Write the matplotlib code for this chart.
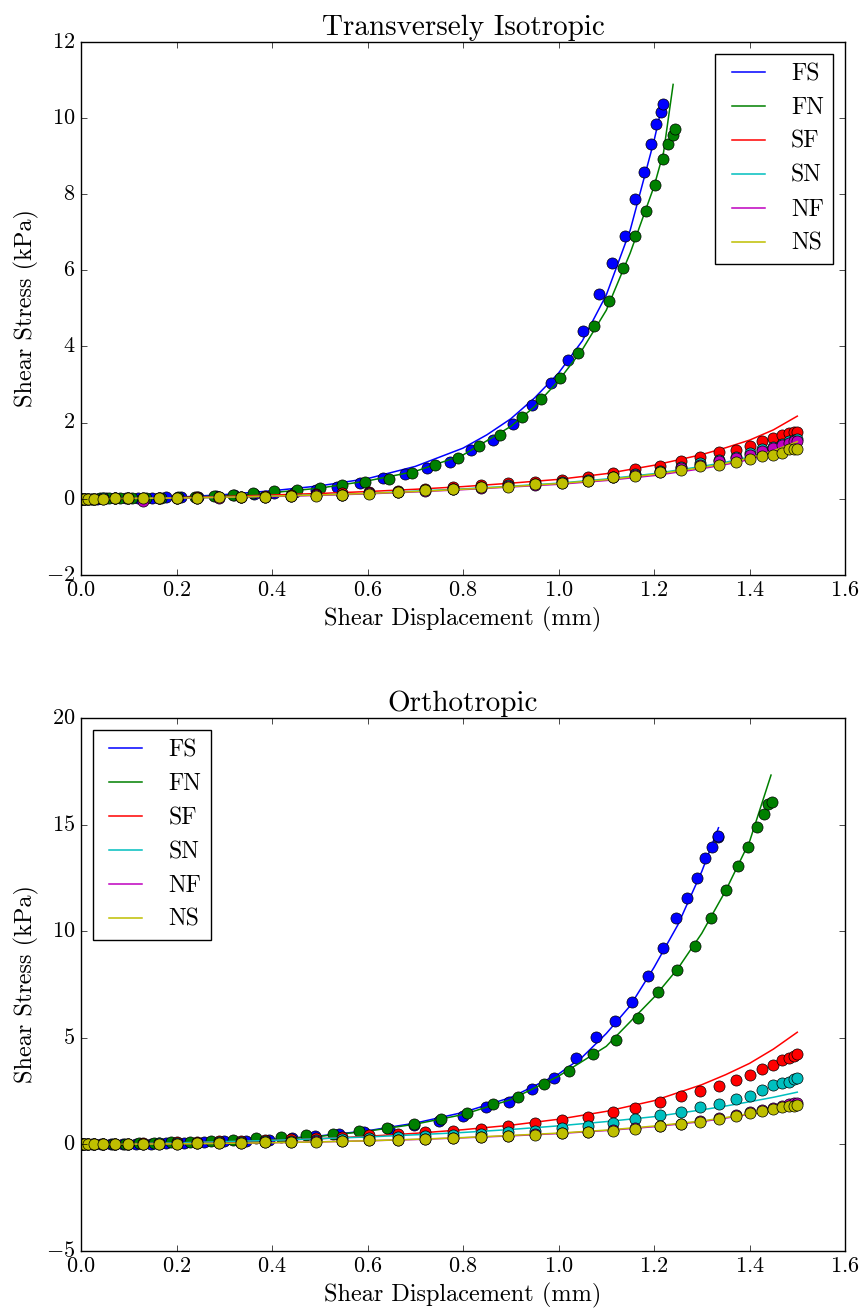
import matplotlib
matplotlib.use("Agg")
import matplotlib.pyplot as plt

plt.style.use("classic")
plt.rcParams["font.family"] = "serif"
plt.rcParams["font.serif"] = ["cmr10"]
plt.rcParams["mathtext.fontset"] = "cm"
plt.rcParams["axes.formatter.use_mathtext"] = True
plt.rcParams["figure.facecolor"] = "white"

names = ["FS", "FN", "SF", "SN", "NF", "NS"]
colors = ["b", "g", "r", "c", "m", "y"]

# shared displacement samples of the slower directions (mm)
x_disp = [0.0, 0.006, 0.015, 0.027, 0.047, 0.071, 0.099, 0.13, 0.164, 0.201,
          0.243, 0.29, 0.336, 0.385, 0.439, 0.493, 0.547, 0.604, 0.663, 0.72,
          0.779, 0.837, 0.895, 0.951, 1.007, 1.061, 1.114, 1.161, 1.212, 1.256,
          1.296, 1.336, 1.372, 1.401, 1.427, 1.45, 1.469, 1.482, 1.494, 1.5]

# ---- transversely isotropic: experimental points ----
x_ti_fs = [0.0, 0.008, 0.02, 0.034, 0.052, 0.072, 0.095, 0.12, 0.148, 0.178,
           0.21, 0.245, 0.282, 0.321, 0.362, 0.405, 0.448, 0.492, 0.537, 0.584,
           0.633, 0.678, 0.725, 0.772, 0.816, 0.862, 0.905, 0.944, 0.984, 1.020,
           1.051, 1.085, 1.113, 1.139, 1.161, 1.179, 1.193, 1.205, 1.214, 1.219]
y_ti_fs = [0, 0, 0, 0, 0.01, 0.01, 0.02, 0.02, 0.03, 0.04,
           0.05, 0.06, 0.08, 0.1, 0.12, 0.15, 0.19, 0.24, 0.3, 0.41,
           0.54, 0.64, 0.81, 0.97, 1.27, 1.55, 1.96, 2.47, 3.03, 3.64,
           4.4, 5.38, 6.2, 6.91, 7.87, 8.58, 9.31, 9.84, 10.15, 10.36]
x_ti_fn = [0.0, 0.004, 0.01, 0.022, 0.039, 0.058, 0.081, 0.107, 0.136, 0.168,
           0.203, 0.239, 0.278, 0.318, 0.36, 0.405, 0.453, 0.5, 0.547, 0.594,
           0.646, 0.693, 0.742, 0.79, 0.834, 0.878, 0.923, 0.963, 1.003, 1.04,
           1.075, 1.106, 1.134, 1.161, 1.183, 1.202, 1.219, 1.229, 1.239, 1.243]
y_ti_fn = [0, 0, 0, 0, 0.01, 0.01, 0.01, 0.02, 0.02, 0.03,
           0.04, 0.05, 0.07, 0.11, 0.16, 0.2, 0.23, 0.28, 0.36, 0.45,
           0.53, 0.68, 0.88, 1.07, 1.39, 1.67, 2.15, 2.61, 3.18, 3.82,
           4.54, 5.2, 6.05, 6.91, 7.55, 8.25, 8.93, 9.31, 9.55, 9.7]
y_ti_sf = [0, 0, 0, 0, 0.01, 0.01, 0.01, 0.02, 0.02, 0.03,
           0.04, 0.05, 0.06, 0.08, 0.1, 0.12, 0.14, 0.17, 0.21, 0.27,
           0.31, 0.36, 0.42, 0.43, 0.49, 0.58, 0.69, 0.79, 0.86, 0.99,
           1.1, 1.22, 1.28, 1.39, 1.52, 1.59, 1.68, 1.74, 1.75, 1.75]
y_ti_sn = [0, 0, 0, 0, 0.01, 0.01, 0.01, 0.02, 0.02, 0.03,
           0.03, 0.04, 0.05, 0.06, 0.08, 0.09, 0.11, 0.14, 0.17, 0.22,
           0.26, 0.3, 0.35, 0.38, 0.43, 0.49, 0.58, 0.65, 0.74, 0.83,
           0.93, 1.03, 1.1, 1.2, 1.3, 1.37, 1.45, 1.51, 1.55, 1.57]
y_ti_nf = [0, 0, 0, 0, 0, 0.01, 0.01, -0.05, 0.01, 0.02,
           0.03, 0.03, 0.04, 0.06, 0.07, 0.09, 0.11, 0.14, 0.17, 0.21,
           0.25, 0.29, 0.34, 0.37, 0.42, 0.48, 0.56, 0.63, 0.71, 0.8,
           0.9, 0.99, 1.07, 1.16, 1.26, 1.33, 1.41, 1.47, 1.51, 1.52]
y_ti_ns = [0, 0, 0, 0, 0, 0.01, 0.01, 0.01, 0.02, 0.02,
           0.03, 0.04, 0.05, 0.06, 0.07, 0.08, 0.11, 0.13, 0.18, 0.22,
           0.27, 0.3, 0.32, 0.39, 0.41, 0.48, 0.56, 0.6, 0.71, 0.76,
           0.86, 0.89, 0.97, 1.04, 1.12, 1.16, 1.19, 1.3, 1.3, 1.3]

# ---- transversely isotropic: model fits ----
x_fit = [0.0, 0.1, 0.2, 0.3, 0.4, 0.5, 0.6, 0.7, 0.8, 0.9,
         1.0, 1.1, 1.2, 1.3, 1.35, 1.4, 1.45, 1.5]
xf_ti_fs = [0.0, 0.1, 0.2, 0.3, 0.4, 0.5, 0.6, 0.7, 0.8, 0.85, 0.9, 0.95,
            1.0, 1.05, 1.1, 1.15, 1.2, 1.219]
yf_ti_fs = [0, 0.01, 0.04, 0.11, 0.21, 0.34, 0.53, 0.85, 1.33, 1.68, 2.1, 2.65,
            3.3, 4.15, 5.35, 7.05, 9.4, 10.45]
xf_ti_fn = [0.0, 0.1, 0.2, 0.3, 0.4, 0.5, 0.6, 0.7, 0.8, 0.9,
            0.95, 1.0, 1.05, 1.1, 1.15, 1.2, 1.22, 1.24]
yf_ti_fn = [0, 0.01, 0.03, 0.08, 0.16, 0.28, 0.47, 0.72, 1.15, 1.9,
            2.42, 3.1, 3.92, 4.95, 6.45, 8.2, 9.1, 10.88]
yf_ti_sf = [0, 0.01, 0.03, 0.06, 0.1, 0.14, 0.19, 0.25, 0.32, 0.41,
            0.51, 0.66, 0.88, 1.16, 1.34, 1.54, 1.81, 2.17]
yf_ti_sn = [0, 0.01, 0.02, 0.04, 0.07, 0.1, 0.14, 0.2, 0.26, 0.33,
            0.41, 0.52, 0.66, 0.85, 0.96, 1.1, 1.29, 1.53]
yf_ti_nf = [0, 0.01, 0.02, 0.04, 0.06, 0.09, 0.13, 0.18, 0.24, 0.31,
            0.38, 0.48, 0.61, 0.79, 0.9, 1.03, 1.21, 1.45]
yf_ti_ns = [0, 0.01, 0.02, 0.04, 0.07, 0.1, 0.14, 0.19, 0.25, 0.32,
            0.4, 0.5, 0.64, 0.82, 0.93, 1.07, 1.26, 1.5]

# ---- orthotropic: experimental points ----
x_or_fs = [0.0, 0.005, 0.013, 0.024, 0.042, 0.063, 0.088, 0.116, 0.146, 0.179,
           0.216, 0.258, 0.3, 0.345, 0.393, 0.441, 0.49, 0.541, 0.593, 0.645,
           0.697, 0.749, 0.8, 0.849, 0.897, 0.944, 0.991, 1.036, 1.078, 1.118,
           1.154, 1.188, 1.219, 1.247, 1.27, 1.291, 1.307, 1.321, 1.333, 1.335]
y_or_fs = [0, 0, 0, 0, 0.01, 0.01, 0.02, 0.03, 0.04, 0.06,
           0.08, 0.1, 0.14, 0.18, 0.23, 0.3, 0.38, 0.47, 0.6, 0.74,
           0.92, 1.12, 1.35, 1.74, 2.01, 2.59, 3.13, 4.04, 5.03, 5.81,
           6.7, 7.91, 9.21, 10.63, 11.56, 12.49, 13.45, 13.93, 14.4, 14.46]
x_or_fn = [0.0, 0.004, 0.013, 0.027, 0.045, 0.067, 0.092, 0.121, 0.153, 0.189,
           0.228, 0.272, 0.318, 0.367, 0.418, 0.472, 0.527, 0.583, 0.64, 0.697,
           0.753, 0.808, 0.862, 0.916, 0.969, 1.021, 1.073, 1.12, 1.166, 1.209,
           1.249, 1.286, 1.319, 1.35, 1.375, 1.397, 1.416, 1.43, 1.439, 1.447]
y_or_fn = [0, 0, 0, 0.01, 0.01, 0.02, 0.03, 0.05, 0.07, 0.1,
           0.13, 0.17, 0.22, 0.28, 0.36, 0.42, 0.5, 0.62, 0.76, 0.96,
           1.2, 1.48, 1.88, 2.24, 2.82, 3.45, 4.23, 4.91, 5.94, 7.15,
           8.2, 9.31, 10.6, 11.92, 13.07, 13.96, 14.87, 15.49, 15.96, 16.07]
y_or_sf = [0, 0, 0, 0.01, 0.02, 0.03, 0.04, 0.05, 0.07, 0.09,
           0.11, 0.14, 0.17, 0.21, 0.26, 0.31, 0.37, 0.44, 0.5, 0.56,
           0.64, 0.74, 0.87, 1.02, 1.13, 1.29, 1.54, 1.71, 2.01, 2.27,
           2.49, 2.74, 3.02, 3.27, 3.54, 3.73, 3.96, 4.07, 4.15, 4.23]
y_or_sn = [0, 0, 0, 0.01, 0.01, 0.02, 0.03, 0.04, 0.05, 0.06,
           0.08, 0.1, 0.12, 0.15, 0.18, 0.21, 0.25, 0.29, 0.33, 0.38,
           0.43, 0.5, 0.57, 0.65, 0.76, 0.84, 1.02, 1.18, 1.38, 1.54,
           1.74, 1.9, 2.13, 2.29, 2.55, 2.77, 2.87, 2.94, 3.08, 3.13]
y_or_nf = [0, 0, 0, 0, 0.01, 0.01, 0.02, 0.02, 0.03, 0.04,
           0.05, 0.06, 0.08, 0.09, 0.11, 0.14, 0.16, 0.19, 0.23, 0.27,
           0.31, 0.36, 0.41, 0.47, 0.54, 0.6, 0.68, 0.76, 0.87, 0.98,
           1.1, 1.23, 1.38, 1.5, 1.62, 1.73, 1.81, 1.88, 1.92, 1.96]
y_or_ns = [0, 0, 0, 0, 0.01, 0.01, 0.02, 0.02, 0.03, 0.04,
           0.05, 0.06, 0.07, 0.09, 0.11, 0.13, 0.16, 0.19, 0.22, 0.26,
           0.3, 0.35, 0.4, 0.45, 0.53, 0.57, 0.65, 0.73, 0.84, 0.95,
           1.07, 1.18, 1.34, 1.46, 1.57, 1.66, 1.74, 1.82, 1.82, 1.85]

# ---- orthotropic: model fits ----
xf_or_fs = [0.0, 0.1, 0.2, 0.3, 0.4, 0.5, 0.6, 0.7, 0.8, 0.9,
            1.0, 1.05, 1.1, 1.15, 1.2, 1.25, 1.3, 1.335]
yf_or_fs = [0, 0.02, 0.06, 0.13, 0.24, 0.4, 0.64, 1.0, 1.5, 2.2,
            3.3, 4.1, 5.2, 6.5, 8.3, 10.3, 12.8, 14.85]
xf_or_fn = [0.0, 0.1, 0.2, 0.3, 0.4, 0.5, 0.6, 0.7, 0.8, 0.9,
            1.0, 1.1, 1.2, 1.25, 1.3, 1.35, 1.4, 1.445]
yf_or_fn = [0, 0.02, 0.05, 0.12, 0.22, 0.38, 0.62, 0.95, 1.4, 2.1,
            3.2, 4.6, 6.9, 8.25, 9.9, 11.9, 14.2, 17.32]
yf_or_sf = [0, 0.03, 0.07, 0.12, 0.19, 0.27, 0.38, 0.52, 0.69, 0.9,
            1.18, 1.55, 2.05, 2.8, 3.27, 3.8, 4.47, 5.26]
yf_or_sn = [0, 0.03, 0.07, 0.13, 0.19, 0.27, 0.35, 0.45, 0.56, 0.7,
            0.87, 1.07, 1.3, 1.62, 1.8, 2.0, 2.21, 2.45]
yf_or_nf = [0, 0.01, 0.03, 0.05, 0.08, 0.12, 0.17, 0.23, 0.31, 0.4,
            0.51, 0.65, 0.83, 1.07, 1.23, 1.42, 1.62, 1.88]
yf_or_ns = [0, 0.01, 0.03, 0.05, 0.08, 0.12, 0.17, 0.24, 0.32, 0.42,
            0.53, 0.67, 0.86, 1.1, 1.26, 1.45, 1.65, 1.9]

panels = [
    {
        "title": "Transversely Isotropic",
        "pos": [0.0942, 0.5621, 0.8884, 0.4061],
        "ylim": (-2, 12),
        "legend": "upper right",
        "points": [(x_ti_fs, y_ti_fs), (x_ti_fn, y_ti_fn), (x_disp, y_ti_sf),
                   (x_disp, y_ti_sn), (x_disp, y_ti_nf), (x_disp, y_ti_ns)],
        "fits": [(xf_ti_fs, yf_ti_fs), (xf_ti_fn, yf_ti_fn), (x_fit, yf_ti_sf),
                 (x_fit, yf_ti_sn), (x_fit, yf_ti_nf), (x_fit, yf_ti_ns)],
    },
    {
        "title": "Orthotropic",
        "pos": [0.0942, 0.0472, 0.8884, 0.4060],
        "ylim": (-5, 20),
        "legend": "upper left",
        "points": [(x_or_fs, y_or_fs), (x_or_fn, y_or_fn), (x_disp, y_or_sf),
                   (x_disp, y_or_sn), (x_disp, y_or_nf), (x_disp, y_or_ns)],
        "fits": [(xf_or_fs, yf_or_fs), (xf_or_fn, yf_or_fn), (x_fit, yf_or_sf),
                 (x_fit, yf_or_sn), (x_fit, yf_or_nf), (x_fit, yf_or_ns)],
    },
]

fig = plt.figure(figsize=(8.6, 13.13), dpi=100)

for panel in panels:
    ax = fig.add_axes(panel["pos"])
    for name, color, pts, fit in zip(names, colors, panel["points"], panel["fits"]):
        ax.plot(fit[0], fit[1], color=color, linewidth=1.1, label=name)
        ax.plot(pts[0], pts[1], "o", color=color, markersize=8,
                markeredgecolor="k", markeredgewidth=0.5)
    ax.set_xlim(0, 1.6)
    ax.set_ylim(*panel["ylim"])
    ax.set_title(panel["title"], fontsize=21)
    ax.set_xlabel("Shear Displacement (mm)", fontsize=17.5)
    ax.set_ylabel("Shear Stress (kPa)", fontsize=17.5)
    ax.tick_params(labelsize=16)
    ax.legend(loc=panel["legend"], fontsize=17)

fig.savefig("out.png", dpi=100, facecolor="white")
